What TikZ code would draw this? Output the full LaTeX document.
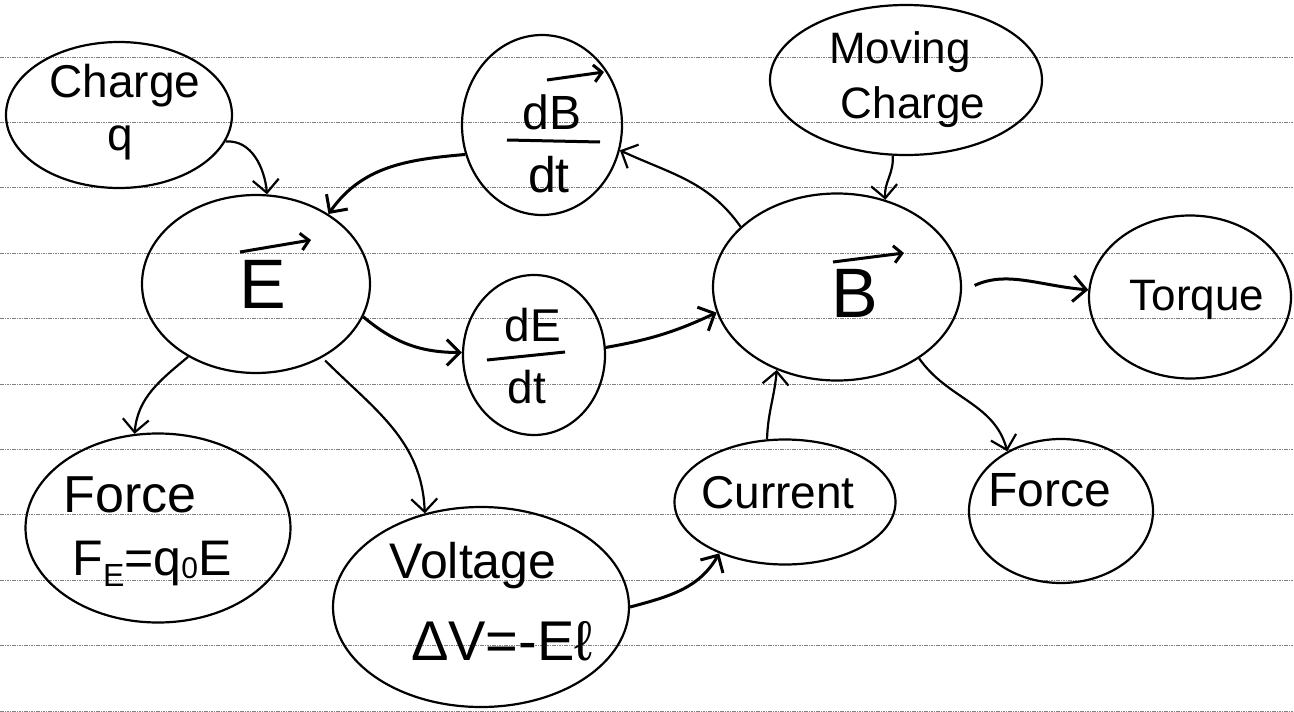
\documentclass[tikz,border=0pt]{standalone}
\usepackage{fontspec}
\setmainfont{Liberation Sans}
\usetikzlibrary{shapes.geometric,arrows.meta}
\newcommand\sz[1]{\fontsize{#1}{#1}\selectfont}
\tikzset{
  blob/.style={ellipse, draw, line width=2.2pt, inner sep=0pt},
  lab/.style={anchor=base, inner sep=0pt},
  link/.style={line width=2.2pt, -{Straight Barb[length=13pt,width=26pt]}},
  heavy/.style={line width=3pt},
  vecbar/.style={line width=3pt, -{Straight Barb[length=8pt,width=17pt]}},
  fracbar/.style={line width=3pt},
  ruling/.style={black!50, line width=1pt, dash pattern=on 1.6pt off 0.8pt},
}
\begin{document}
\begin{tikzpicture}[x=1pt,y=1pt]
\fill[white] (0,0) rectangle (1294,-712);
\useasboundingbox (0,0) rectangle (1294,-712);

% ruled notebook paper
\foreach \k in {0,...,10}
  \draw[ruling] (0,{-57-65.4*\k}) -- (1294,{-57-65.4*\k});

% concept bubbles
\node[blob, minimum width=226pt, minimum height=146pt] (charge)  at (119,-115) {};
\node[blob, minimum width=228pt, minimum height=178pt] (E)       at (256,-284) {};
\node[blob, minimum width=160pt, minimum height=180pt] (dBdt)    at (542,-125) {};
\node[blob, minimum width=272pt, minimum height=150pt] (moving)  at (906,-80)  {};
\node[blob, minimum width=248pt, minimum height=187pt] (B)       at (837,-287) {};
\node[blob, minimum width=202pt, minimum height=163pt] (torque)  at (1190,-297) {};
\node[blob, minimum width=142pt, minimum height=160pt] (dEdt)    at (534,-355) {};
\node[blob, minimum width=265pt, minimum height=189pt] (forceE)  at (158,-528) {};
\node[blob, minimum width=296pt, minimum height=200pt] (voltage) at (481,-607) {};
\node[blob, minimum width=221pt, minimum height=125pt] (current) at (785,-502) {};
\node[blob, minimum width=184pt, minimum height=144pt] (forceB)  at (1061,-511) {};

% labels
\node[lab, font=\sz{46}] (chargeA) at (125,-97)  {Charge};
\node[lab, font=\sz{46}] (chargeB) at (120,-150) {q};
\node[lab, font=\sz{44}] (movA)    at (900,-63)  {Moving};
\node[lab, font=\sz{44}] (movB)    at (913,-118) {Charge};
\node[lab, font=\sz{70}] (Elab)    at (263,-308) {E};
\node[lab, font=\sz{70}] (Blab)    at (855,-317) {B};
\node[lab, font=\sz{48}] (dBnum)   at (552,-129) {dB};
\node[lab, font=\sz{50}] (dBden)   at (549,-192) {dt};
\node[lab, font=\sz{46}] (dEnum)   at (533,-341) {dE};
\node[lab, font=\sz{46}] (dEden)   at (527,-403) {dt};
\node[lab, font=\sz{44}] (torqueT) at (1197,-310) {Torque};
\node[lab, font=\sz{52}] (forceEa) at (130,-512) {Force};
\node[lab, font=\sz{50}] (forceEb) at (152,-575)
  {F\raisebox{-11pt}{\sz{32}E}=q\raisebox{-3pt}{\sz{30}0}E};
\node[lab, font=\sz{50}] (voltA)   at (473,-578) {Voltage};
\node[lab, font=\sz{56}] (voltB)   at (502,-660) {ΔV=-Eℓ};
\node[lab, font=\sz{46}] (currT)   at (778,-508) {Current};
\node[lab, font=\sz{48}] (forceBT) at (1050,-506) {Force};

% vector arrows and fraction bars
\draw[vecbar] (240,-252) -- (311,-240);
\draw[vecbar] (833,-262) -- (904,-253);
\draw[vecbar] (547,-80) -- (604,-72);
\draw[fracbar] (507,-140) -- (600,-142);
\draw[fracbar] (487,-360) -- (565,-352);

% connections
\draw[link] (charge.-14) to[out=5,in=95] (E.83);
\draw[link,heavy] (dBdt.201) to[out=185,in=55] (E.44);
\draw[link] (B.148) to[out=125,in=-25] (dBdt.-18);
\draw[link] (moving.-100) to[out=-85,in=95] (B.61);
\draw[link,heavy,shorten <=14pt] (B.-2) to[out=25,in=175] (torque.176);
\draw[link,heavy] (E.-17) to[out=-40,in=180] (dEdt.178);
\draw[link,heavy] (dEdt.6) to[out=10,in=205] (B.192);
\draw[link] (E.227) to[out=220,in=85] (forceE.104);
\draw[link,shorten <=4pt] (E.-48) to[out=-45,in=92] (voltage.121);
\draw[link,heavy] (voltage.0) to[out=15,in=240] (current.218);
\draw[link] (current.106) to[out=88,in=265] (B.234);
\draw[link] (B.-41) to[out=-55,in=105] (forceB.132);
\end{tikzpicture}
\end{document}
